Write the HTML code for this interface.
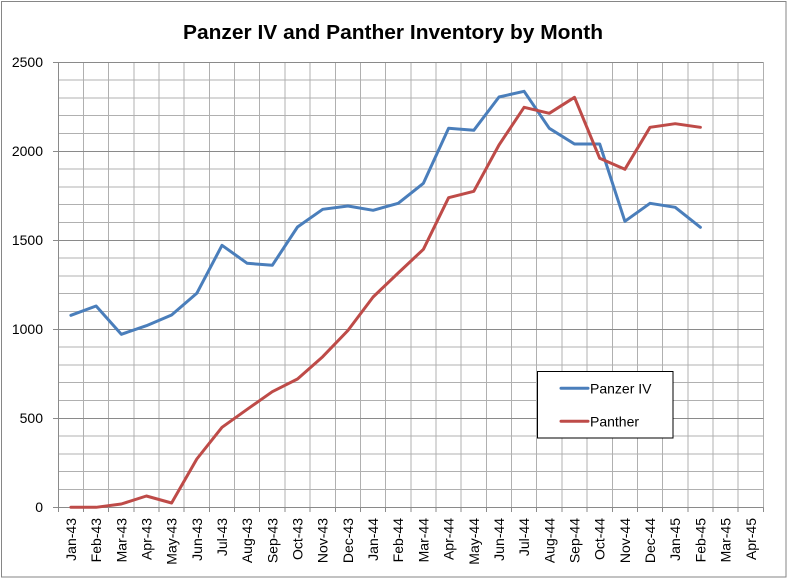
<!DOCTYPE html>
<html>
<head>
<meta charset="utf-8">
<style>
  html,body{margin:0;padding:0;background:#fff;}
  svg{display:block;}
  text{font-family:"Liberation Sans",Arial,sans-serif;fill:#000;}
</style>
</head>
<body>
<svg width="788" height="579" viewBox="0 0 788 579" xmlns="http://www.w3.org/2000/svg">
  <rect x="0" y="0" width="788" height="579" fill="#fff"/>
  <rect x="1.5" y="1.5" width="784.5" height="575.5" fill="none" stroke="#868686" stroke-width="1"/>

  <text x="393" y="39" text-anchor="middle" font-size="20" font-weight="bold" textLength="420" lengthAdjust="spacingAndGlyphs">Panzer IV and Panther Inventory by Month</text>

  <!-- minor horizontal gridlines -->
  <g stroke="#b0b0b0" stroke-width="1" shape-rendering="crispEdges">
    <line x1="58.3" x2="763.3" y1="489.5" y2="489.5"/>
    <line x1="58.3" x2="763.3" y1="471.7" y2="471.7"/>
    <line x1="58.3" x2="763.3" y1="453.9" y2="453.9"/>
    <line x1="58.3" x2="763.3" y1="436.1" y2="436.1"/>
    <line x1="58.3" x2="763.3" y1="400.5" y2="400.5"/>
    <line x1="58.3" x2="763.3" y1="382.7" y2="382.7"/>
    <line x1="58.3" x2="763.3" y1="364.9" y2="364.9"/>
    <line x1="58.3" x2="763.3" y1="347.1" y2="347.1"/>
    <line x1="58.3" x2="763.3" y1="311.5" y2="311.5"/>
    <line x1="58.3" x2="763.3" y1="293.7" y2="293.7"/>
    <line x1="58.3" x2="763.3" y1="275.9" y2="275.9"/>
    <line x1="58.3" x2="763.3" y1="258.1" y2="258.1"/>
    <line x1="58.3" x2="763.3" y1="222.5" y2="222.5"/>
    <line x1="58.3" x2="763.3" y1="204.7" y2="204.7"/>
    <line x1="58.3" x2="763.3" y1="186.9" y2="186.9"/>
    <line x1="58.3" x2="763.3" y1="169.1" y2="169.1"/>
    <line x1="58.3" x2="763.3" y1="133.5" y2="133.5"/>
    <line x1="58.3" x2="763.3" y1="115.7" y2="115.7"/>
    <line x1="58.3" x2="763.3" y1="97.9" y2="97.9"/>
    <line x1="58.3" x2="763.3" y1="80.1" y2="80.1"/>
  </g>
  <!-- vertical gridlines -->
  <g stroke="#b0b0b0" stroke-width="1" shape-rendering="crispEdges">
    <line y1="62.3" y2="507.3" x1="83.5" x2="83.5"/>
    <line y1="62.3" y2="507.3" x1="108.7" x2="108.7"/>
    <line y1="62.3" y2="507.3" x1="133.8" x2="133.8"/>
    <line y1="62.3" y2="507.3" x1="159.0" x2="159.0"/>
    <line y1="62.3" y2="507.3" x1="184.2" x2="184.2"/>
    <line y1="62.3" y2="507.3" x1="209.4" x2="209.4"/>
    <line y1="62.3" y2="507.3" x1="234.6" x2="234.6"/>
    <line y1="62.3" y2="507.3" x1="259.7" x2="259.7"/>
    <line y1="62.3" y2="507.3" x1="284.9" x2="284.9"/>
    <line y1="62.3" y2="507.3" x1="310.1" x2="310.1"/>
    <line y1="62.3" y2="507.3" x1="335.3" x2="335.3"/>
    <line y1="62.3" y2="507.3" x1="360.5" x2="360.5"/>
    <line y1="62.3" y2="507.3" x1="385.6" x2="385.6"/>
    <line y1="62.3" y2="507.3" x1="410.8" x2="410.8"/>
    <line y1="62.3" y2="507.3" x1="436.0" x2="436.0"/>
    <line y1="62.3" y2="507.3" x1="461.2" x2="461.2"/>
    <line y1="62.3" y2="507.3" x1="486.4" x2="486.4"/>
    <line y1="62.3" y2="507.3" x1="511.5" x2="511.5"/>
    <line y1="62.3" y2="507.3" x1="536.7" x2="536.7"/>
    <line y1="62.3" y2="507.3" x1="561.9" x2="561.9"/>
    <line y1="62.3" y2="507.3" x1="587.1" x2="587.1"/>
    <line y1="62.3" y2="507.3" x1="612.3" x2="612.3"/>
    <line y1="62.3" y2="507.3" x1="637.4" x2="637.4"/>
    <line y1="62.3" y2="507.3" x1="662.6" x2="662.6"/>
    <line y1="62.3" y2="507.3" x1="687.8" x2="687.8"/>
    <line y1="62.3" y2="507.3" x1="713.0" x2="713.0"/>
    <line y1="62.3" y2="507.3" x1="738.2" x2="738.2"/>
    <line y1="62.3" y2="507.3" x1="763.3" x2="763.3"/>
  </g>
  <!-- major horizontal gridlines -->
  <g stroke="#8a8a8a" stroke-width="1" shape-rendering="crispEdges">
    <line x1="53" x2="763.3" y1="62.3" y2="62.3"/>
    <line x1="53" x2="763.3" y1="151.3" y2="151.3"/>
    <line x1="53" x2="763.3" y1="240.3" y2="240.3"/>
    <line x1="53" x2="763.3" y1="329.3" y2="329.3"/>
    <line x1="53" x2="763.3" y1="418.3" y2="418.3"/>
    <line x1="53" x2="763.3" y1="507.3" y2="507.3"/>
    <line x1="58.3" x2="58.3" y1="62.3" y2="507.3"/>
  </g>
  <!-- x tick marks -->
  <g stroke="#8a8a8a" stroke-width="1" shape-rendering="crispEdges">
    <line y1="507.3" y2="512" x1="58.3" x2="58.3"/>
    <line y1="507.3" y2="512" x1="83.5" x2="83.5"/>
    <line y1="507.3" y2="512" x1="108.7" x2="108.7"/>
    <line y1="507.3" y2="512" x1="133.8" x2="133.8"/>
    <line y1="507.3" y2="512" x1="159.0" x2="159.0"/>
    <line y1="507.3" y2="512" x1="184.2" x2="184.2"/>
    <line y1="507.3" y2="512" x1="209.4" x2="209.4"/>
    <line y1="507.3" y2="512" x1="234.6" x2="234.6"/>
    <line y1="507.3" y2="512" x1="259.7" x2="259.7"/>
    <line y1="507.3" y2="512" x1="284.9" x2="284.9"/>
    <line y1="507.3" y2="512" x1="310.1" x2="310.1"/>
    <line y1="507.3" y2="512" x1="335.3" x2="335.3"/>
    <line y1="507.3" y2="512" x1="360.5" x2="360.5"/>
    <line y1="507.3" y2="512" x1="385.6" x2="385.6"/>
    <line y1="507.3" y2="512" x1="410.8" x2="410.8"/>
    <line y1="507.3" y2="512" x1="436.0" x2="436.0"/>
    <line y1="507.3" y2="512" x1="461.2" x2="461.2"/>
    <line y1="507.3" y2="512" x1="486.4" x2="486.4"/>
    <line y1="507.3" y2="512" x1="511.5" x2="511.5"/>
    <line y1="507.3" y2="512" x1="536.7" x2="536.7"/>
    <line y1="507.3" y2="512" x1="561.9" x2="561.9"/>
    <line y1="507.3" y2="512" x1="587.1" x2="587.1"/>
    <line y1="507.3" y2="512" x1="612.3" x2="612.3"/>
    <line y1="507.3" y2="512" x1="637.4" x2="637.4"/>
    <line y1="507.3" y2="512" x1="662.6" x2="662.6"/>
    <line y1="507.3" y2="512" x1="687.8" x2="687.8"/>
    <line y1="507.3" y2="512" x1="713.0" x2="713.0"/>
    <line y1="507.3" y2="512" x1="738.2" x2="738.2"/>
    <line y1="507.3" y2="512" x1="763.3" x2="763.3"/>
  </g>

  <!-- y labels -->
  <g font-size="14" text-anchor="end">
    <text x="43" y="67">2500</text>
    <text x="43" y="156">2000</text>
    <text x="43" y="245">1500</text>
    <text x="43" y="334">1000</text>
    <text x="43" y="423">500</text>
    <text x="43" y="512">0</text>
  </g>

  <!-- x labels -->
  <g font-size="14" text-anchor="end">
    <text transform="translate(76,518) rotate(-90)">Jan-43</text>
    <text transform="translate(101.1,518) rotate(-90)">Feb-43</text>
    <text transform="translate(126.3,518) rotate(-90)">Mar-43</text>
    <text transform="translate(151.4,518) rotate(-90)">Apr-43</text>
    <text transform="translate(176.6,518) rotate(-90)">May-43</text>
    <text transform="translate(201.8,518) rotate(-90)">Jun-43</text>
    <text transform="translate(227,518) rotate(-90)">Jul-43</text>
    <text transform="translate(252.2,518) rotate(-90)">Aug-43</text>
    <text transform="translate(277.3,518) rotate(-90)">Sep-43</text>
    <text transform="translate(302.5,518) rotate(-90)">Oct-43</text>
    <text transform="translate(327.7,518) rotate(-90)">Nov-43</text>
    <text transform="translate(352.9,518) rotate(-90)">Dec-43</text>
    <text transform="translate(378.1,518) rotate(-90)">Jan-44</text>
    <text transform="translate(403.2,518) rotate(-90)">Feb-44</text>
    <text transform="translate(428.4,518) rotate(-90)">Mar-44</text>
    <text transform="translate(453.6,518) rotate(-90)">Apr-44</text>
    <text transform="translate(478.8,518) rotate(-90)">May-44</text>
    <text transform="translate(504,518) rotate(-90)">Jun-44</text>
    <text transform="translate(529.1,518) rotate(-90)">Jul-44</text>
    <text transform="translate(554.3,518) rotate(-90)">Aug-44</text>
    <text transform="translate(579.5,518) rotate(-90)">Sep-44</text>
    <text transform="translate(604.7,518) rotate(-90)">Oct-44</text>
    <text transform="translate(629.9,518) rotate(-90)">Nov-44</text>
    <text transform="translate(655,518) rotate(-90)">Dec-44</text>
    <text transform="translate(680.2,518) rotate(-90)">Jan-45</text>
    <text transform="translate(705.4,518) rotate(-90)">Feb-45</text>
    <text transform="translate(730.6,518) rotate(-90)">Mar-45</text>
    <text transform="translate(755.8,518) rotate(-90)">Apr-45</text>
  </g>

  <!-- Panzer IV -->
  <polyline fill="none" stroke="#4a7ebb" stroke-width="3" stroke-linejoin="round" stroke-linecap="round"
    points="70.9,315.3 96.1,306 121.3,334.3 146.4,325.7 171.6,315 196.8,293.3 222,245.3 247.2,263.3 272.3,265.3 297.5,227 322.7,209.3 347.9,206 373.1,210.3 398.2,203.3 423.4,183.3 448.6,128.3 473.8,130.3 499,97 524.1,91.3 549.3,128.3 574.5,144 599.7,144 624.9,221.3 650,203.3 675.2,207.3 700.4,227.3"/>
  <!-- Panther -->
  <polyline fill="none" stroke="#be4b48" stroke-width="3" stroke-linejoin="round" stroke-linecap="round"
    points="70.9,507.3 96.1,507.3 121.3,504 146.4,496 171.6,503 196.8,459 222,427.3 247.2,409.3 272.3,391.7 297.5,379 322.7,356.7 347.9,330.5 373.1,297 398.2,273 423.4,249.3 448.6,197.7 473.8,191.3 499,145 524.1,107.3 549.3,113.3 574.5,97.3 599.7,158.3 624.9,169.3 650,127.3 675.2,123.7 700.4,127.3"/>

  <!-- legend -->
  <rect x="537.5" y="371.5" width="135.5" height="66.5" fill="#fff" stroke="#000" stroke-width="1"/>
  <line x1="561" x2="588" y1="388.3" y2="388.3" stroke="#4a7ebb" stroke-width="3" stroke-linecap="round"/>
  <line x1="561" x2="588" y1="421.3" y2="421.3" stroke="#be4b48" stroke-width="3" stroke-linecap="round"/>
  <text x="590" y="393.5" font-size="14">Panzer IV</text>
  <text x="590" y="426.5" font-size="14">Panther</text>
</svg>
</body>
</html>
